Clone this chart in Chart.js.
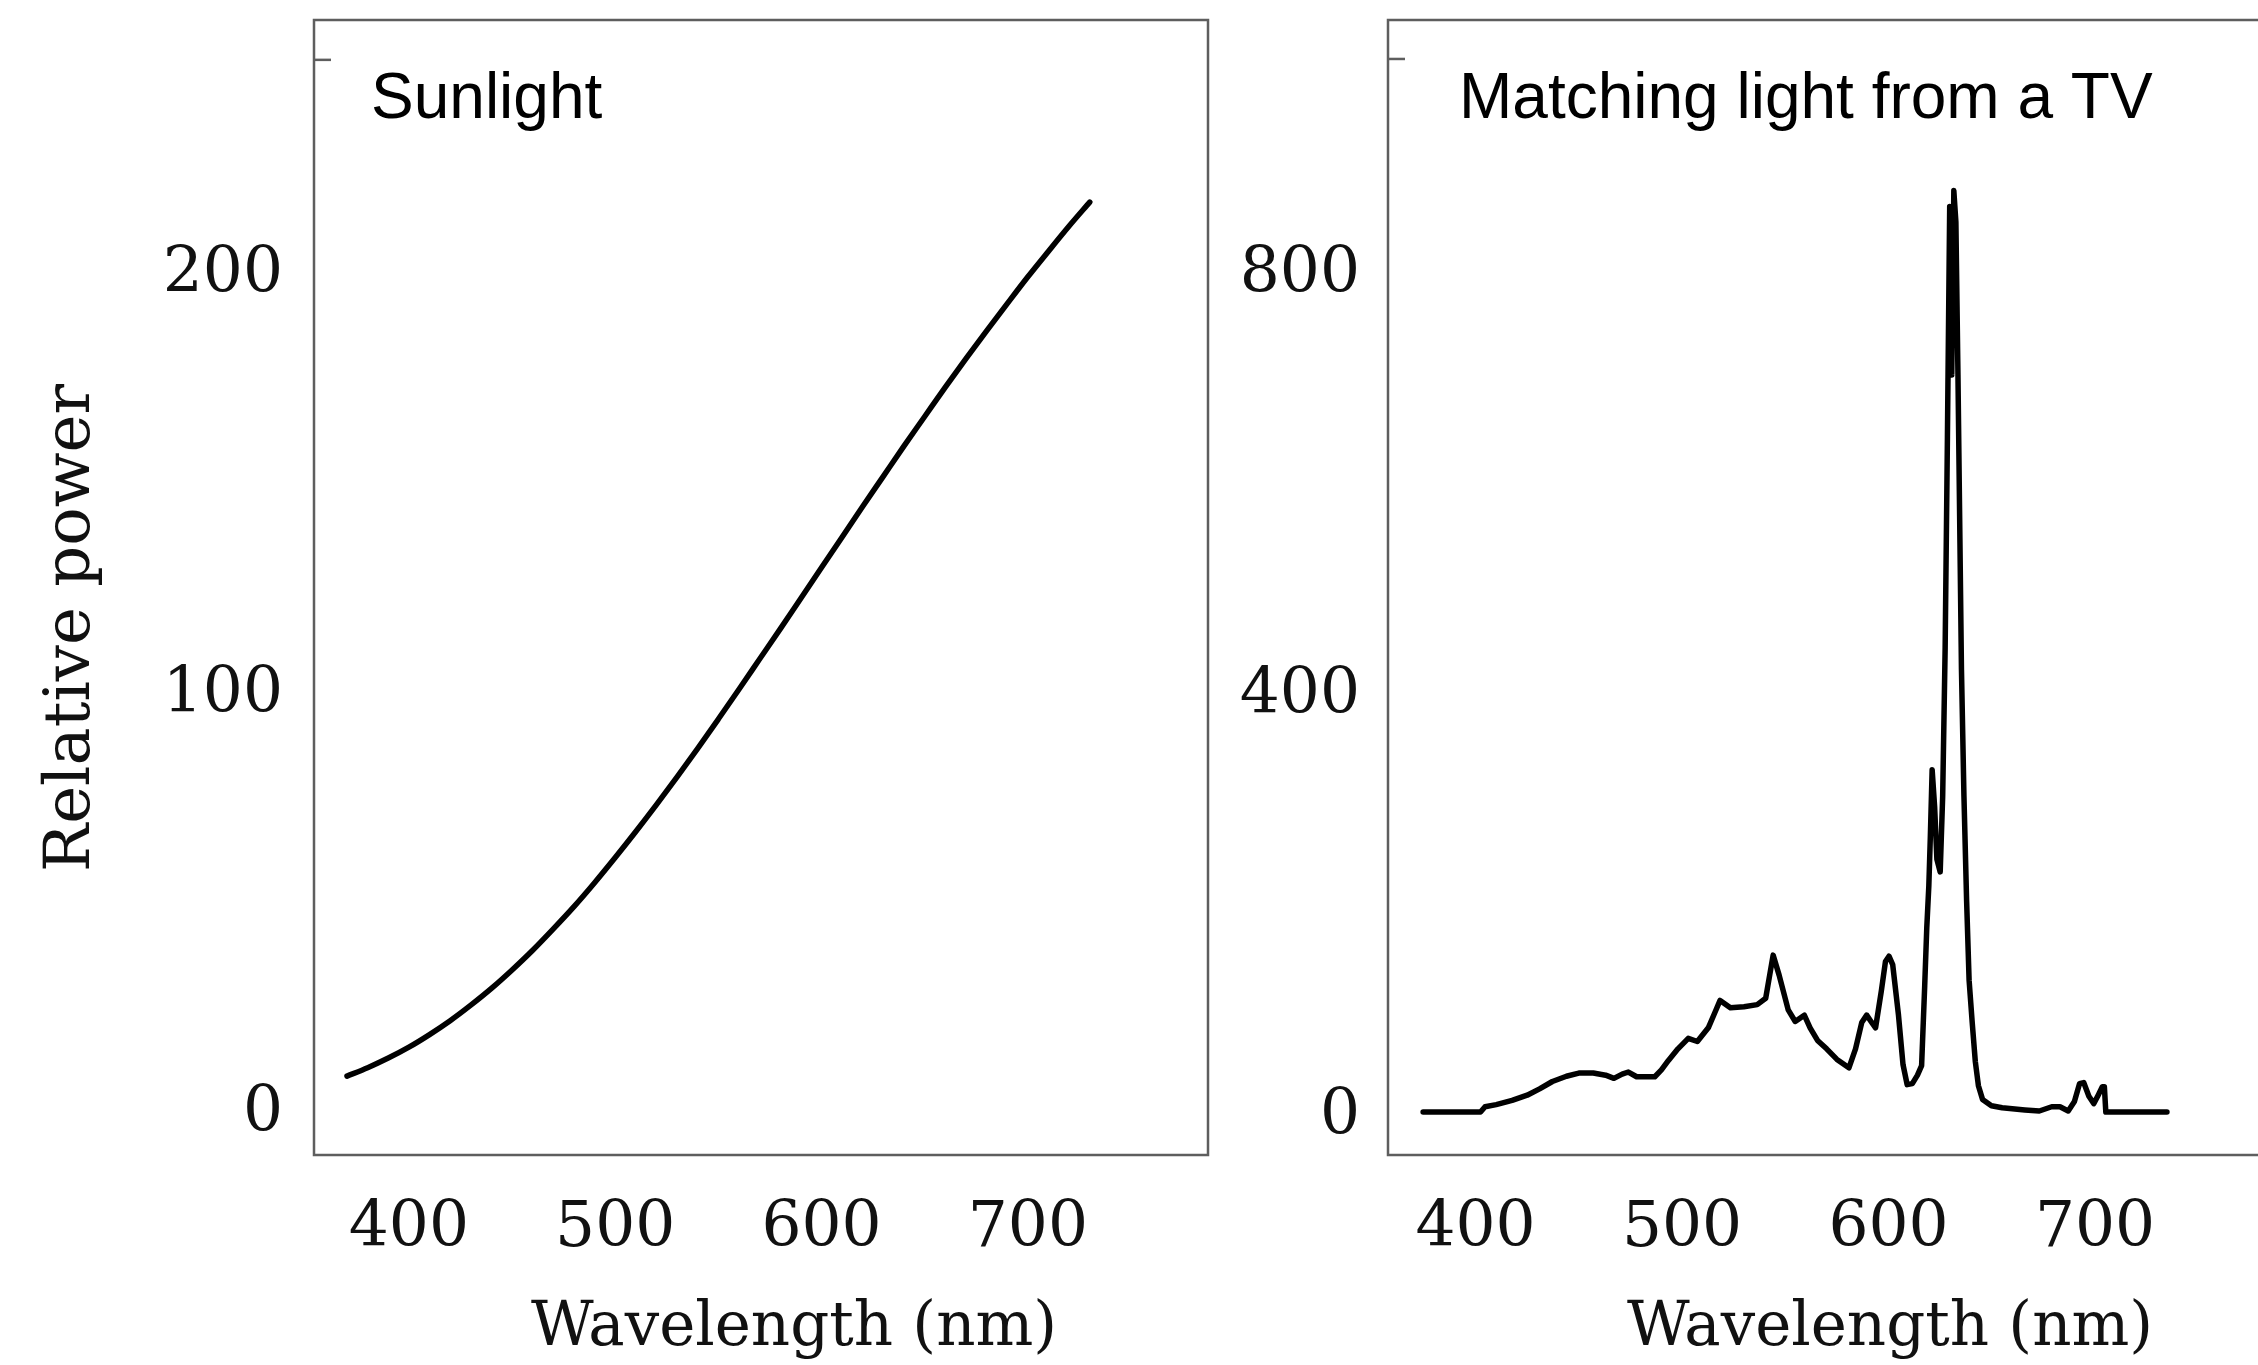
<!DOCTYPE html>
<html>
<head>
<meta charset="utf-8">
<script src="https://cdn.jsdelivr.net/npm/chart.js@4.4.1/dist/chart.umd.min.js"></script>
<style>
  html, body { margin: 0; padding: 0; background: #fff; overflow: hidden; width: 2258px; height: 1365px; }
  canvas { position: absolute; top: 0; }
  #sunChart { left: 0; }
  #tvChart { left: 1229px; }
</style>
</head>
<body>
<canvas id="sunChart" width="1229" height="1365"></canvas>
<canvas id="tvChart" width="1100" height="1365"></canvas>
<script>
// Sunlight: relative spectral power, sampled every 10 nm
const sunWavelength = [370, 380, 390, 400, 410, 420, 430, 440, 450, 460, 470, 480, 490,
  500, 510, 520, 530, 540, 550, 560, 570, 580, 590, 600, 610, 620, 630, 640, 650,
  660, 670, 680, 690, 700, 710, 720, 730];
const sunPower = [7.8, 9.8, 12.1, 14.7, 17.7, 21.0, 24.7, 28.7, 33.1, 37.8, 42.9, 48.2, 53.9,
  59.9, 66.1, 72.5, 79.1, 85.9, 92.9, 100.0, 107.2, 114.4, 121.7, 129.0, 136.3, 143.6, 150.8,
  158.0, 165.0, 172.0, 178.8, 185.4, 191.9, 198.3, 204.4, 210.4, 216.1];

// TV phosphor light that matches the sunlight colour
const tvWavelength = [374.6, 380, 390, 400, 402.4, 404.6, 410, 417.7, 425, 431, 437.2, 444,
  450, 457, 463, 467, 471, 474, 478, 486.8, 490, 493.4, 498, 503, 507.4, 512.7, 516, 518.4,
  523.4, 530, 536.4, 540.5, 544.1, 547, 551.4, 554.8, 559.2, 562, 565.6, 570, 575, 580.8,
  584, 587, 589.4, 591.5, 593.7, 596.5, 598.5, 600.2, 602, 604.8, 607, 609, 611.5, 614,
  616, 617.5, 618.5, 619.5, 620.2, 621.1, 622.3, 623.4, 625, 626.2, 627.4, 628.5, 629.6,
  630.6, 631.6, 632.6, 633.6, 635.3, 636.5, 637.8, 639, 640.5, 642, 643.5, 645.5, 649.8,
  655, 666, 673, 679, 683, 687, 690, 692.5, 694.5, 697, 699.4, 701.5, 703.5, 704.5, 705.2,
  734.8];
const tvPower = [0, 0, 0, 0, 0, 5, 7, 11, 16, 22, 29, 34,
  37, 37, 35, 32, 36, 38, 33.5, 33.5, 40, 49, 60, 70, 67, 80, 95, 106,
  99, 100, 102, 108, 149, 130, 97, 86, 92, 80, 68, 60, 50, 42,
  60, 85, 92, 86, 80, 115, 143, 148, 140, 92, 45, 26, 27, 35,
  44, 120, 175, 215, 260, 325, 290, 240, 228, 300, 441, 641, 860,
  700, 875, 845, 700, 420, 300, 200, 125, 85, 48, 25, 12, 6,
  4, 2, 1, 5, 5, 1, 10, 27, 28, 15, 8, 16, 24, 24, 0,
  0];

// Axis ticks
const wavelengthTicks = [400, 500, 600, 700];
const sunPowerTicks = [0, 100, 200];
const sunPowerMarks = [250];
const tvPowerTicks = [0, 400, 800];
const tvPowerMarks = [1000];

const serif = 'DejaVu Serif';

// Frame, short inner tick marks, panel caption and axis titles
const panelDecor = {
  id: 'panelDecor',
  afterDatasetsDraw(chart, args, o) {
    const { ctx, chartArea: a } = chart;
    const y = chart.scales.y;
    ctx.save();
    ctx.strokeStyle = '#5e5e5e';
    ctx.lineWidth = 2.5;
    ctx.strokeRect(a.left, a.top, a.right - a.left, a.bottom - a.top);
    o.marks.forEach(v => {
      const py = y.getPixelForValue(v);
      ctx.beginPath();
      ctx.moveTo(a.left, py);
      ctx.lineTo(a.left + 17, py);
      ctx.stroke();
    });
    ctx.fillStyle = '#000';
    ctx.textAlign = 'left';
    ctx.textBaseline = 'alphabetic';
    ctx.font = '64px "Liberation Sans"';
    ctx.fillText(o.caption, a.left + o.captionX, a.top + o.captionY);
    ctx.fillStyle = '#111';
    ctx.textAlign = 'center';
    ctx.font = '61px "' + serif + '"';
    ctx.fillText(o.xTitle, o.xTitleX, o.xTitleY);
    if (o.yTitle) {
      ctx.font = '64px "' + serif + '"';
      ctx.translate(o.yTitleX, o.yTitleY);
      ctx.rotate(-Math.PI / 2);
      ctx.fillText(o.yTitle, 0, 0);
    }
    ctx.restore();
  }
};

function spectrumChart(id, s) {
  return new Chart(document.getElementById(id), {
    type: 'line',
    data: {
      datasets: [{
        data: s.x.map((w, i) => ({ x: w, y: s.y[i] })),
        borderColor: '#000',
        borderWidth: 5.5,
        pointRadius: 0,
        fill: false,
        tension: s.smooth ? 0.4 : 0,
        cubicInterpolationMode: s.smooth ? 'monotone' : 'default',
        borderJoinStyle: 'round',
        borderCapStyle: 'round'
      }]
    },
    options: {
      responsive: false,
      animation: false,
      events: [],
      layout: { padding: { top: 20, right: s.padRight, bottom: 0, left: 0 } },
      plugins: {
        legend: { display: false },
        tooltip: { enabled: false },
        panelDecor: s.decor
      },
      scales: {
        x: {
          type: 'linear',
          min: s.xMin,
          max: s.xMax,
          afterBuildTicks: sc => { sc.ticks = wavelengthTicks.map(v => ({ value: v })); },
          afterFit: sc => { sc.height = 210; sc.paddingLeft = 0; sc.paddingRight = 0; },
          grid: { display: false, drawTicks: false },
          border: { display: false },
          ticks: {
            font: { family: serif, size: 63 },
            color: '#111',
            padding: 37,
            maxRotation: 0,
            autoSkip: false
          }
        },
        y: {
          type: 'linear',
          min: s.yMin,
          max: s.yMax,
          afterBuildTicks: sc => { sc.ticks = s.yTicks.map(v => ({ value: v })); },
          afterFit: sc => { sc.width = s.axisWidth; sc.paddingTop = 0; sc.paddingBottom = 0; },
          grid: { display: false, drawTicks: false },
          border: { display: false },
          ticks: {
            font: { family: serif, size: 63 },
            color: '#111',
            padding: s.labelPad,
            labelOffset: 6,
            autoSkip: false
          }
        }
      }
    },
    plugins: [panelDecor]
  });
}

spectrumChart('sunChart', {
  x: sunWavelength, y: sunPower, smooth: true,
  xMin: 354, xMax: 787.3, yMin: -11, yMax: 259.5,
  yTicks: sunPowerTicks, axisWidth: 314, labelPad: 31, padRight: 21,
  decor: {
    marks: sunPowerMarks, caption: 'Sunlight', captionX: 57, captionY: 98,
    xTitle: 'Wavelength (nm)', xTitleX: 794, xTitleY: 1345,
    yTitle: 'Relative power', yTitleX: 89, yTitleY: 628
  }
});

spectrumChart('tvChart', {
  x: tvWavelength, y: tvPower, smooth: false,
  xMin: 357.6, xMax: 791, yMin: -40.8, yMax: 1037,
  yTicks: tvPowerTicks, axisWidth: 159, labelPad: 28, padRight: 46,
  decor: {
    marks: tvPowerMarks, caption: 'Matching light from a TV', captionX: 71, captionY: 98,
    xTitle: 'Wavelength (nm)', xTitleX: 661, xTitleY: 1345,
    yTitle: '', yTitleX: 0, yTitleY: 0
  }
});
</script>
</body>
</html>
